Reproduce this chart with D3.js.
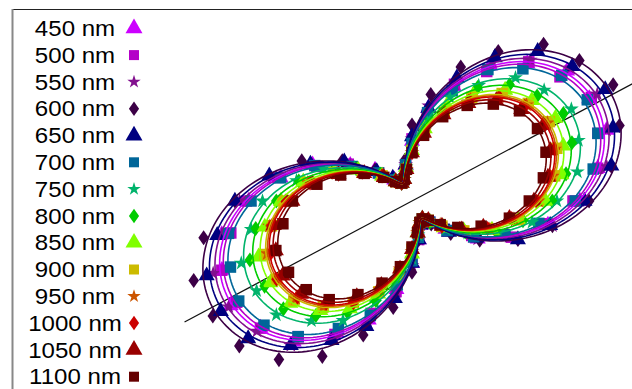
<!DOCTYPE html>
<html><head><meta charset="utf-8">
<script src="https://cdn.jsdelivr.net/npm/d3@7"></script>
<style>body{margin:0;background:#fff}svg{display:block}</style>
</head><body>
<svg id="c" width="632" height="389"></svg>
<script>
// polarisation angle of each measured point (degrees)
const angles = [0,10,20,30,40,50,60,70,80,90,100,110,120,130,140,150,160,170,
                180,190,200,210,220,230,240,250,260,270,280,290,300,310,320,330,340,350];
const wavelengths = [450,500,550,600,650,700,750,800,850,900,950,1000,1050,1100];
const seriesColors = ["#cc00ff","#b400c8","#82108e","#3c0046","#000080","#006699","#00b36b",
                      "#00cc00","#80ff00","#ccbb00","#cc5500","#cc0000","#990000","#660000"];
const seriesShapes = ["triangle","square","star","diamond","triangle","square","star",
                      "diamond","triangle","square","star","diamond","triangle","square"];
// measured intensities (a.u.) per wavelength
const m450  = [73,82,90,89,88,78,68,53,41,26,16,10,9,12,21,31,46,58, 71,84,88,91,86,80,66,55,39,27,17,11,9,13,19,33,44,60];
const m500  = [70,82,86,90,84,79,65,54,38,27,16,10,9,12,19,32,44,59, 72,80,88,88,86,77,67,52,40,26,17,10,9,12,20,30,46,57];
const m550  = [73,86,90,93,90,80,70,54,42,27,16,10,9,12,21,31,47,60, 75,84,92,92,88,82,68,56,40,28,17,11,9,13,20,33,45,62];
const m600  = [77,88,96,101,95,89,75,62,47,33,18,11,9,13,21,35,51,63, 77,92,101,100,98,90,78,62,47,31,17,10,9,13,22,34,49,62];
const m650  = [75,88,93,97,91,85,72,57,41,28,16,10,9,13,20,34,47,63, 77,86,95,96,93,82,70,58,43,27,17,11,9,12,21,32,49,61];
const m700  = [71,80,86,88,85,75,66,51,39,25,16,10,9,12,19,30,45,58, 70,81,84,87,84,77,64,53,37,26,16,10,9,12,20,31,43,56];
const m750  = [63,73,77,80,75,70,58,48,36,23,15,10,9,12,18,29,41,51, 65,71,79,78,77,68,60,47,35,25,15,10,9,11,19,28,40,53];
const m800  = [61,68,74,76,71,66,57,44,34,24,15,10,9,11,18,28,37,50, 59,69,75,74,73,65,56,46,33,23,14,10,9,12,17,27,39,49];
const m850  = [58,66,70,72,68,63,53,44,32,22,15,10,9,11,17,27,36,48, 57,65,71,71,69,62,54,43,33,23,14,10,9,12,18,26,37,47];
const m900  = [55,63,67,69,66,61,52,41,31,22,14,10,9,11,17,25,36,46, 56,62,68,68,67,60,51,42,32,21,14,10,9,11,17,26,35,47];
const m950  = [55,62,66,68,65,59,51,42,31,21,14,10,9,11,17,25,35,46, 54,63,67,67,66,60,50,41,30,22,14,10,9,11,16,25,36,45];
const m1000 = [54,61,66,67,64,59,50,41,31,21,14,10,9,11,17,25,34,45, 55,62,65,68,65,58,51,40,30,22,14,10,9,11,17,24,35,44];
const m1050 = [53,60,64,66,62,57,49,40,30,21,14,10,9,11,16,24,34,44, 52,61,63,65,63,58,48,39,30,21,14,10,9,11,17,25,33,43];
const m1100 = [51,58,62,63,61,55,48,39,29,21,14,10,9,11,16,24,33,42, 52,57,63,62,60,56,47,38,29,20,14,10,9,11,16,23,32,43];
const measured = [m450,m500,m550,m600,m650,m700,m750,m800,m850,m900,m950,m1000,m1050,m1100];
// fit  I = offset + amplitude * cos^2(theta - phase)
const fitOffset = [8.7,8.7,8.7,8.7,8.7,8.7,8.7,8.7,8.7,8.7,8.7,8.7,8.7,8.7];
const fitAmplitude = [81.7,80.0,83.9,89.6,86.5,77.8,70.4,66.1,62.6,60.0,59.1,58.3,56.5,54.3];
const fitPhase = 28;
const axisExtent = [-112, 140];

const svg = d3.select("#c");
const cx = 412, cy = 201;
const rS = d3.scaleLinear().domain([0, 100]).range([0, 230]);
const rad = d => d * Math.PI / 180;
// wider diamond (half-width = 0.7 * half-height)
const wideDiamond = {draw(ctx, size) {
  const b = Math.sqrt(size / 1.4), a = 0.7 * b;
  ctx.moveTo(0, -b); ctx.lineTo(a, 0); ctx.lineTo(0, b); ctx.lineTo(-a, 0); ctx.closePath();
}};
const symbolFor = {triangle: d3.symbolTriangle, square: d3.symbolSquare, star: d3.symbolStar, diamond: wideDiamond};
const plotSize = {triangle: 112, square: 132, star: 68, diamond: 80};
const legSize = {triangle: 125, square: 100, star: 56, diamond: 74};

// frame
svg.append("line").attr("x1", 12).attr("x2", 632).attr("y1", 9.5).attr("y2", 9.5)
  .attr("stroke", "#222").attr("stroke-width", 1);
svg.append("line").attr("x1", 12.5).attr("x2", 12.5).attr("y1", 9).attr("y2", 389)
  .attr("stroke", "#888").attr("stroke-width", 2);

const plot = svg.append("g").attr("transform", `translate(${cx},${cy})`);
const pt = (a, v) => [rS(v) * Math.cos(rad(a)), -rS(v) * Math.sin(rad(a))];

// axis line
const p0 = pt(fitPhase, axisExtent[0]), p1 = pt(fitPhase, axisExtent[1]);
plot.append("line").attr("x1", p0[0]).attr("y1", p0[1]).attr("x2", p1[0]).attr("y2", p1[1])
  .attr("stroke", "#111").attr("stroke-width", 1.2);

// markers
wavelengths.forEach((w, i) => {
  const sh = seriesShapes[i];
  plot.append("g").selectAll("path").data(measured[i]).join("path")
    .attr("d", d3.symbol(symbolFor[sh], plotSize[sh]))
    .attr("transform", (v, j) => { const p = pt(angles[j], v); return `translate(${p[0]},${p[1]})`; })
    .attr("fill", seriesColors[i]);
});

// fitted curves
const fineAngles = d3.range(0, 360, 1);
wavelengths.forEach((w, i) => {
  const fitR = a => fitOffset[i] + fitAmplitude[i] * Math.cos(rad(a - fitPhase)) ** 2;
  const line = d3.line().x(a => pt(a, fitR(a))[0]).y(a => pt(a, fitR(a))[1])
    .curve(d3.curveLinearClosed);
  plot.append("path").attr("d", line(fineAngles)).attr("fill", "none")
    .attr("stroke", seriesColors[i]).attr("stroke-width", 1.6);
});

// legend
const leg = svg.append("g");
wavelengths.forEach((w, i) => {
  const yc = 28.3 + 26.8 * i;
  leg.append("text").attr("transform", `translate(75,${yc + 7.7}) scale(1.12,1)`)
    .attr("text-anchor", "middle").attr("font-family", "Liberation Sans, Arial, sans-serif")
    .attr("font-size", "21.5px").attr("fill", "#000").text(w + " nm");
  const sh = seriesShapes[i];
  leg.append("path").attr("d", d3.symbol(symbolFor[sh], legSize[sh]))
    .attr("transform", `translate(134,${yc})`).attr("fill", seriesColors[i]);
});
</script>
</body></html>
